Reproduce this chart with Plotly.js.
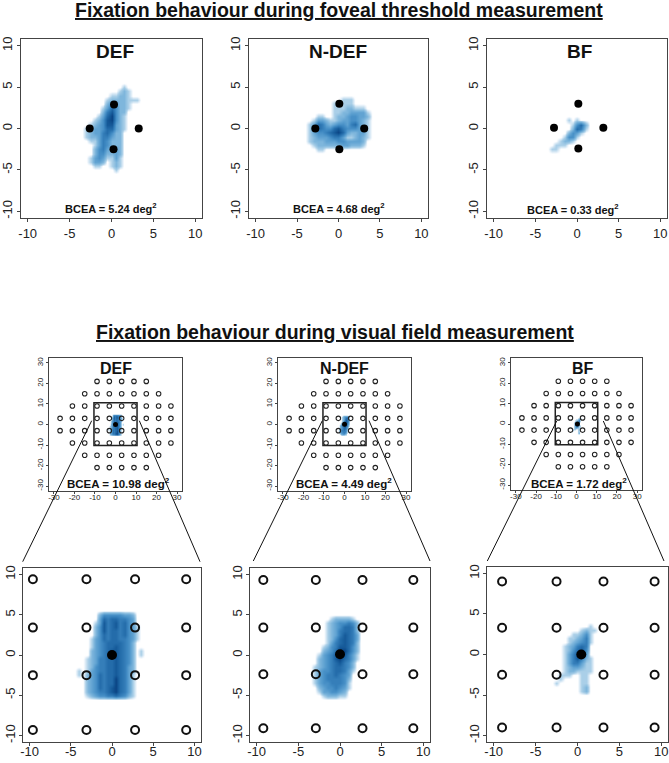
<!DOCTYPE html>
<html><head><meta charset="utf-8">
<script src="https://cdn.plot.ly/plotly-3.0.1.min.js"></script>
<style>html,body{margin:0;padding:0;background:#fff}#chart{width:669px;height:763px}</style>
</head><body><div id="chart"></div>
<script>
// ---------------- DATA ----------------
const groups = ['DEF', 'N-DEF', 'BF'];
const bceaFoveal = ['5.24', '4.68', '0.33'];
const bceaField = ['10.98', '4.49', '1.72'];
const sectionTitles = ['Fixation behaviour during foveal threshold measurement',
                       'Fixation behaviour during visual field measurement'];
const tickVals10 = [-10, -5, 0, 5, 10];
const tickText10 = ['-10', '-5', '0', '5', '10'];
const tickVals30 = [-30, -20, -10, 0, 10, 20, 30];
const tickText30 = ['-30', '-20', '-10', '0', '10', '20', '30'];

// foveal threshold stimulus positions (deg), per group
const fovStimX_DEF = [0.3, -2.6, 3.25, 0.24];
const fovStimY_DEF = [2.9, 0.0, 0.0, -2.5];
const fovStimX_NDEF = [0.1, -2.8, 3.1, 0.1];
const fovStimY_NDEF = [3.0, 0.0, 0.0, -2.5];
const fovStimX_BF = [0.16, -2.76, 3.16, 0.16];
const fovStimY_BF = [3.0, 0.1, 0.1, -2.4];

// visual field test grid (deg)
const vfRowY = [21, 15, 9, 3, -3, -9, -15, -21];
const vfRowX = [
  [-9, -3, 3, 9, 15],
  [-15, -9, -3, 3, 9, 15, 21],
  [-21, -15, -9, -3, 3, 9, 15, 21, 27],
  [-27, -21, -15, -9, -3, 3, 9, 15, 21, 27],
  [-27, -21, -15, -9, -3, 3, 9, 15, 21, 27],
  [-21, -15, -9, -3, 3, 9, 15, 21, 27],
  [-15, -9, -3, 3, 9, 15, 21],
  [-9, -3, 3, 9, 15]
];

// central 4x4 stimuli in zoomed view, per group
const zoomStimX_DEF = [-9.6, -3.1, 2.8, 9.0];
const zoomStimY_DEF = [9.4, 3.4, -2.5, -9.3];
const zoomStimX_NDEF = [-9.2, -2.9, 2.7, 8.8];
const zoomStimY_NDEF = [9.3, 3.4, -2.4, -9.1];
const zoomStimX_BF = [-9.0, -2.5, 3.1, 9.2];
const zoomStimY_BF = [9.0, 3.3, -2.5, -9.0];
// fixation target position
const fixX = [0.0, 0.0, 0.45];
const fixY = [0.0, 0.1, 0.0];

// smoothed fixation density (relative levels 0-8), foveal threshold
const topDefX = [-4,-3.5,-3,-2.5,-2,-1.5,-1,-0.5,0,0.5,1,1.5,2,2.5,3,3.5];
const topDefY = [5.5,5,4.5,4,3.5,3,2.5,2,1.5,1,0.5,0,-0.5,-1,-1.5,-2,-2.5,-3,-3.5,-4,-4.5,-5,-5.5];
const topDefZ = [
  [0,0,0,0,0,0,0,0,0,0,0,0,0,0,0,0],
  [0,0,0,0,0,0,0,0,0,0,0,1,0,0,0,0],
  [0,0,0,0,0,0,0,0,0,0,1,2,1,0,0,0],
  [0,0,0,0,0,0,0,0,1,1,2,2,1,0,0,0],
  [0,0,0,0,0,0,0,1,2,2,2,2,1,1,1,0],
  [0,0,0,0,0,0,0,2,4,3,2,2,1,0,0,0],
  [0,0,0,0,0,0,1,3,6,4,2,2,1,0,0,0],
  [0,0,0,0,0,0,2,5,7,4,2,2,0,0,0,0],
  [0,0,0,0,0,1,3,6,8,4,2,1,0,0,0,0],
  [0,0,0,0,1,2,4,7,8,4,2,1,0,0,0,0],
  [0,0,0,1,2,3,4,7,7,3,2,1,0,0,0,0],
  [0,0,1,2,3,3,4,6,6,3,2,1,0,0,0,0],
  [0,0,1,2,3,3,5,6,4,2,2,0,0,0,0,0],
  [0,0,1,2,2,3,5,5,3,2,2,0,0,0,0,0],
  [0,0,0,1,1,3,5,4,2,2,2,0,0,0,0,0],
  [0,0,0,0,1,3,5,4,2,2,2,0,0,0,0,0],
  [0,0,0,0,2,4,5,3,2,3,2,0,0,0,0,0],
  [0,0,0,0,2,4,4,2,2,3,2,0,0,0,0,0],
  [0,0,0,1,3,4,3,1,1,3,1,0,0,0,0,0],
  [0,0,0,1,3,3,2,0,1,2,1,0,0,0,0,0],
  [0,0,0,0,1,1,0,0,1,2,1,0,0,0,0,0],
  [0,0,0,0,0,0,0,0,0,1,0,0,0,0,0,0],
  [0,0,0,0,0,0,0,0,0,0,0,0,0,0,0,0]
];
const topNdefX = [-4.5,-4,-3.5,-3,-2.5,-2,-1.5,-1,-0.5,0,0.5,1,1.5,2,2.5,3,3.5,4,4.5];
const topNdefY = [4,3.5,3,2.5,2,1.5,1,0.5,0,-0.5,-1,-1.5,-2,-2.5,-3];
const topNdefZ = [
  [0,0,0,0,0,0,0,0,0,0,0,0,0,0,0,0,0,0,0],
  [0,0,0,0,0,0,0,0,0,0,1,1,1,0,0,0,0,0,0],
  [0,0,0,0,0,0,0,0,1,1,1,1,1,0,0,0,0,0,0],
  [0,0,0,0,0,0,0,0,1,1,1,2,2,1,1,1,0,0,0],
  [0,0,0,0,0,0,0,0,1,1,2,2,3,3,3,3,1,0,0],
  [0,0,0,0,1,1,0,0,1,2,2,3,4,4,3,3,2,0,0],
  [0,0,0,1,3,3,2,1,1,2,3,3,4,4,3,2,1,0,0],
  [0,0,1,3,6,5,3,2,3,4,4,3,5,6,3,2,1,0,0],
  [0,0,1,4,6,5,4,4,6,7,5,4,4,4,3,3,1,0,0],
  [0,0,1,3,4,4,5,6,7,8,6,3,2,2,3,3,1,0,0],
  [0,0,1,2,3,3,3,4,5,5,3,1,1,2,3,2,1,0,0],
  [0,0,1,2,2,2,3,3,3,4,4,3,3,3,3,2,0,0,0],
  [0,0,0,1,2,2,2,2,2,2,3,3,2,2,2,1,0,0,0],
  [0,0,0,0,1,1,0,0,0,0,0,0,0,0,0,0,0,0,0],
  [0,0,0,0,0,0,0,0,0,0,0,0,0,0,0,0,0,0,0]
];
const topBfX = [-3.5,-3,-2.5,-2,-1.5,-1,-0.5,0,0.5,1,1.5];
const topBfY = [2,1.5,1,0.5,0,-0.5,-1,-1.5,-2,-2.5,-3];
const topBfZ = [
  [0,0,0,0,0,0,0,0,0,0,0],
  [0,0,0,0,0,0,0,0,0,0,0],
  [0,0,0,0,0,1,0,1,0,0,0],
  [0,0,0,0,0,0,1,4,6,2,0],
  [0,0,0,0,0,0,2,6,5,1,0],
  [0,0,0,0,0,2,4,3,1,0,0],
  [0,0,0,0,1,4,4,1,0,0,0],
  [0,0,0,1,2,2,1,0,0,0,0],
  [0,0,1,1,1,0,0,0,0,0,0],
  [0,1,1,0,0,0,0,0,0,0,0],
  [0,0,0,0,0,0,0,0,0,0,0]
];

// smoothed fixation density (relative levels 0-8), visual field
const botDefX = [-5,-4.5,-4,-3.5,-3,-2.5,-2,-1.5,-1,-0.5,0,0.5,1,1.5,2,2.5,3,3.5,4];
const botDefY = [5.5,5,4.5,4,3.5,3,2.5,2,1.5,1,0.5,0,-0.5,-1,-1.5,-2,-2.5,-3,-3.5,-4,-4.5,-5,-5.5];
const botDefZ = [
  [0,0,0,0,0,0,0,0,0,0,0,0,0,0,0,0,0,0,0],
  [0,0,0,0,0,0,0,2,4,4,4,4,4,3,3,2,0,0,0],
  [0,0,0,0,0,0,0,3,6,5,6,6,5,5,4,3,0,0,0],
  [0,0,0,0,0,0,1,3,7,5,6,7,5,6,4,3,0,0,0],
  [0,0,0,0,0,0,2,4,7,5,6,7,5,6,4,3,1,0,0],
  [0,0,0,0,0,0,2,4,7,5,6,6,5,6,4,3,1,0,0],
  [0,0,0,0,0,0,2,4,6,5,6,6,5,6,4,3,1,0,0],
  [0,0,0,0,0,1,3,4,6,5,6,6,5,5,4,3,1,0,0],
  [0,0,0,0,0,1,3,4,5,6,6,6,6,5,4,2,0,0,0],
  [0,0,0,0,0,1,3,4,5,6,6,7,6,5,4,2,0,0,0],
  [0,0,0,0,0,2,3,4,5,6,7,7,6,5,4,2,0,1,0],
  [0,0,0,0,0,2,3,4,5,6,7,7,6,5,4,2,0,1,0],
  [0,0,0,0,1,2,3,5,5,6,6,7,6,5,4,2,0,0,0],
  [0,0,0,0,1,2,3,5,5,6,6,7,6,5,4,2,0,0,0],
  [0,0,0,0,1,2,4,5,5,6,6,7,6,5,3,2,0,0,0],
  [0,0,1,0,1,3,4,5,5,6,6,7,6,5,3,2,0,0,0],
  [0,0,1,0,2,3,4,6,5,6,6,7,6,5,3,1,0,0,0],
  [0,0,0,0,2,3,4,6,5,6,6,8,6,5,3,1,0,0,0],
  [0,0,0,0,2,3,4,6,5,6,6,8,6,5,3,1,0,0,0],
  [0,0,0,0,2,3,4,6,5,6,7,8,6,5,3,1,0,0,0],
  [0,0,0,0,2,3,4,5,5,6,7,8,6,5,3,1,0,0,0],
  [0,0,0,0,1,2,3,4,4,5,5,6,5,4,2,1,0,0,0],
  [0,0,0,0,0,0,0,0,0,0,0,0,0,0,0,0,0,0,0]
];
const botNdefX = [-4,-3.5,-3,-2.5,-2,-1.5,-1,-0.5,0,0.5,1,1.5,2,2.5,3];
const botNdefY = [5,4.5,4,3.5,3,2.5,2,1.5,1,0.5,0,-0.5,-1,-1.5,-2,-2.5,-3,-3.5,-4,-4.5,-5,-5.5];
const botNdefZ = [
  [0,0,0,0,0,0,0,0,0,0,0,0,0,0,0],
  [0,0,0,0,0,0,1,2,2,2,2,1,0,0,0],
  [0,0,0,0,0,1,2,3,4,4,5,4,2,0,0],
  [0,0,0,0,0,1,2,3,4,6,6,5,2,0,0],
  [0,0,0,0,0,1,2,3,5,6,6,5,2,0,0],
  [0,0,0,0,0,1,2,3,5,7,6,5,3,0,0],
  [0,0,0,0,0,1,2,4,6,7,6,5,3,0,0],
  [0,0,0,0,0,1,3,5,6,7,6,5,2,0,0],
  [0,0,0,0,1,2,4,5,7,7,6,4,2,0,0],
  [0,0,0,0,2,3,4,6,8,8,6,4,2,0,0],
  [0,0,0,1,3,4,5,7,8,7,5,3,1,0,0],
  [0,0,0,2,3,4,5,7,8,6,5,3,1,0,0],
  [0,0,0,2,3,4,5,6,7,5,4,2,0,0,0],
  [0,0,1,2,3,4,5,6,6,5,4,2,0,0,0],
  [0,0,1,3,4,4,5,6,6,5,3,1,0,0,0],
  [0,0,1,3,4,5,5,6,5,4,3,0,0,0,0],
  [0,0,1,3,4,5,5,5,5,4,2,0,0,0,0],
  [0,0,1,3,4,4,5,5,5,4,1,0,0,0,0],
  [0,0,0,2,3,4,4,5,4,3,1,0,0,0,0],
  [0,0,0,1,3,3,4,4,3,2,0,0,0,0,0],
  [0,0,0,0,1,2,2,2,1,1,0,0,0,0,0],
  [0,0,0,0,0,0,0,0,0,0,0,0,0,0,0]
];
const botBfX = [-3,-2.5,-2,-1.5,-1,-0.5,0,0.5,1,1.5,2,2.5,3];
const botBfY = [4,3.5,3,2.5,2,1.5,1,0.5,0,-0.5,-1,-1.5,-2,-2.5,-3,-3.5,-4,-4.5,-5,-5.5];
const botBfZ = [
  [0,0,0,0,0,0,0,0,0,0,0,0,0],
  [0,0,0,0,0,0,0,0,0,1,0,0,0],
  [0,0,0,0,0,0,0,1,2,1,1,0,0],
  [0,0,0,0,0,1,1,2,4,1,0,0,0],
  [0,0,0,0,1,1,2,3,5,1,0,0,0],
  [0,0,0,0,1,2,3,4,5,1,0,0,0],
  [0,0,0,1,2,3,5,6,5,0,0,0,0],
  [0,0,0,1,2,4,6,7,4,0,0,0,0],
  [0,0,0,1,3,5,7,7,3,0,0,0,0],
  [0,0,0,1,3,5,7,5,2,1,0,0,0],
  [0,0,0,1,3,5,5,3,1,1,0,0,0],
  [0,0,0,1,2,3,3,2,1,1,0,0,0],
  [0,0,0,1,2,2,1,1,1,1,0,0,0],
  [0,0,1,1,1,0,0,1,1,0,0,0,0],
  [0,0,1,0,0,0,0,1,1,0,0,0,0],
  [0,1,0,0,0,0,0,1,1,0,0,0,0],
  [0,0,0,0,0,0,0,1,2,0,0,0,0],
  [0,0,0,0,0,0,0,1,2,0,0,0,0],
  [0,0,0,0,0,0,0,0,0,0,0,0,0],
  [0,0,0,0,0,0,0,0,0,0,0,0,0]
];

// ---------------- LAYOUT HELPERS ----------------
const W = 669, H = 763;
const FONT = 'Liberation Sans, Arial, Helvetica, sans-serif';
const px = v => v / W;
const py = v => 1 - v / H;
// panel boxes in pixels [left, top, right, bottom]
const boxes = [
  [21, 39, 202, 218], [249, 39, 428, 218], [487, 39, 667, 218],
  [49, 358, 182, 491], [278, 358, 411, 491], [511, 358, 642, 490],
  [23, 568, 201, 742], [250, 568, 430, 742], [487, 567, 668, 742]
];
// label standoff per row [x, y]
const standoffs = [[0, 0], [-4, 0], [-6, -1]];
const blues = [
  [0, 'rgba(255,255,255,0)'], [0.03, 'rgba(238,245,251,1)'], [0.125, '#AACFE8'],
  [0.25, '#7EB6DC'], [0.4, '#5B9FD0'], [0.55, '#3F89C2'], [0.7, '#2A73B0'],
  [0.85, '#185E9D'], [1, '#0B4585']
];

const layout = {
  width: W, height: H, margin: {l: 0, r: 0, t: 0, b: 0},
  paper_bgcolor: '#fff', plot_bgcolor: '#fff', showlegend: false,
  font: {family: FONT, color: '#222'},
  annotations: [], shapes: []
};
const traces = [];

function axName(i, c) { return i === 1 ? c : c + i; }

boxes.forEach((b, k) => {
  const i = k + 1;
  const row = Math.floor(k / 3);
  const mid = row === 1;
  const R = mid ? 32.4 : 10.8;
  const common = {
    showline: true, mirror: true, linecolor: '#444', linewidth: 1,
    ticks: 'outside', tickcolor: '#444', ticklen: mid ? 2 : 3, tickwidth: 1,
    showgrid: false, zeroline: false, fixedrange: true, tickmode: 'array',
    tickvals: mid ? tickVals30 : tickVals10, ticktext: mid ? tickText30 : tickText10,
    tickfont: {family: FONT, size: mid ? 8 : 13, color: '#222'},
    range: [-R, R]
  };
  layout[axName(i, 'xaxis')] = Object.assign({}, common, {
    domain: [px(b[0]), px(b[2])], anchor: axName(i, 'y'), ticklabelstandoff: standoffs[row][0]
  });
  layout[axName(i, 'yaxis')] = Object.assign({}, common, {
    domain: [py(b[3]), py(b[1])], anchor: axName(i, 'x'), tickangle: -90, ticklabelstandoff: standoffs[row][1]
  });
});

function heat(i, X, Y, Z) {
  traces.push({
    type: 'heatmap', x: X, y: Y.slice().reverse(), z: Z.slice().reverse(),
    xaxis: axName(i, 'x'), yaxis: axName(i, 'y'),
    colorscale: blues, zmin: 0, zmax: 8, zsmooth: 'best', showscale: false, hoverinfo: 'skip'
  });
}
function pts(i, X, Y, marker) {
  traces.push({
    type: 'scatter', mode: 'markers', x: X, y: Y, xaxis: axName(i, 'x'), yaxis: axName(i, 'y'),
    marker: marker, hoverinfo: 'skip', cliponaxis: false
  });
}
function gridXY(xsArr, ysArr) {
  const gx = [], gy = [];
  ysArr.forEach(yv => xsArr.forEach(xv => { gx.push(xv); gy.push(yv); }));
  return [gx, gy];
}

// top row
heat(1, topDefX, topDefY, topDefZ);
heat(2, topNdefX, topNdefY, topNdefZ);
heat(3, topBfX, topBfY, topBfZ);
const dotBig = {color: '#000', size: 8, symbol: 'circle'};
pts(1, fovStimX_DEF, fovStimY_DEF, dotBig);
pts(2, fovStimX_NDEF, fovStimY_NDEF, dotBig);
pts(3, fovStimX_BF, fovStimY_BF, dotBig);

// middle row
const vfX = [], vfY = [];
vfRowY.forEach((yv, r) => vfRowX[r].forEach(xv => { vfX.push(xv); vfY.push(yv); }));
const midData = [[botDefX, botDefY, botDefZ], [botNdefX, botNdefY, botNdefZ], [botBfX, botBfY, botBfZ]];
const zoomStim = [[zoomStimX_DEF, zoomStimY_DEF], [zoomStimX_NDEF, zoomStimY_NDEF], [zoomStimX_BF, zoomStimY_BF]];
for (let g = 0; g < 3; g++) {
  const i = 4 + g;
  heat(i, midData[g][0], midData[g][1], midData[g][2]);
  pts(i, vfX, vfY, {symbol: 'circle-open', size: 4.5, color: '#222', line: {width: 1.1}});
  pts(i, [fixX[g]], [fixY[g]], {color: '#000', size: 5});
  layout.shapes.push({type: 'rect', xref: axName(i, 'x'), yref: axName(i, 'y'),
    x0: -10.5, x1: 10.5, y0: -10.2, y1: 10.6, line: {color: '#222', width: 1.5}, layer: 'above'});
}
// bottom row
for (let g = 0; g < 3; g++) {
  const i = 7 + g;
  heat(i, midData[g][0], midData[g][1], midData[g][2]);
  const gxy = gridXY(zoomStim[g][0], zoomStim[g][1]);
  pts(i, gxy[0], gxy[1], {symbol: 'circle-open', size: 8, color: '#111', line: {width: 2}});
  pts(i, [fixX[g]], [fixY[g]], {color: '#000', size: 10});
}

// zoom connector lines (pixels)
const connectors = [
  [91.7, 420.7, 22.7, 561.7], [139.3, 420.7, 200, 561.7],
  [322.3, 420.7, 253.3, 561], [369, 420.7, 430, 561],
  [556.7, 421, 487.3, 561], [603.3, 421, 664, 561]
];
connectors.forEach(c => layout.shapes.push({type: 'line', xref: 'paper', yref: 'paper',
  x0: px(c[0]), y0: py(c[1]), x1: px(c[2]), y1: py(c[3]), line: {color: '#111', width: 1}}));

// text
function ann(text, x, y, size) {
  layout.annotations.push({text: text, x: px(x), y: py(y), xref: 'paper', yref: 'paper',
    showarrow: false, xanchor: 'center', yanchor: 'middle',
    font: {family: FONT, size: size, color: '#111', weight: 'bold'}});
}
layout.annotations.push({text: sectionTitles[0], x: px(339), y: py(10), xref: 'paper', yref: 'paper',
  showarrow: false, xanchor: 'center', yanchor: 'middle',
  font: {family: FONT, size: 19.5, color: '#111', weight: 'bold', lineposition: 'under'}});
layout.annotations.push({text: sectionTitles[1], x: px(335), y: py(332), xref: 'paper', yref: 'paper',
  showarrow: false, xanchor: 'center', yanchor: 'middle',
  font: {family: FONT, size: 19.5, color: '#111', weight: 'bold', lineposition: 'under'}});

const topTitlePos = [[115, 51], [338, 51], [579, 51]];
const topBceaPos = [[111, 208], [339, 208], [573, 209]];
const midTitlePos = [[116, 369], [344, 369], [583, 368]];
const midBceaPos = [[118, 483], [344, 483], [579, 483]];
for (let g = 0; g < 3; g++) {
  ann(groups[g], topTitlePos[g][0], topTitlePos[g][1], 19);
  ann('BCEA = ' + bceaFoveal[g] + ' deg<sup>2</sup>', topBceaPos[g][0], topBceaPos[g][1], 11);
  ann(groups[g], midTitlePos[g][0], midTitlePos[g][1], 16);
  ann('BCEA = ' + bceaField[g] + ' deg<sup>2</sup>', midBceaPos[g][0], midBceaPos[g][1], 11.5);
}

Plotly.newPlot('chart', traces, layout, {staticPlot: true, displayModeBar: false});
</script>
</body></html>
